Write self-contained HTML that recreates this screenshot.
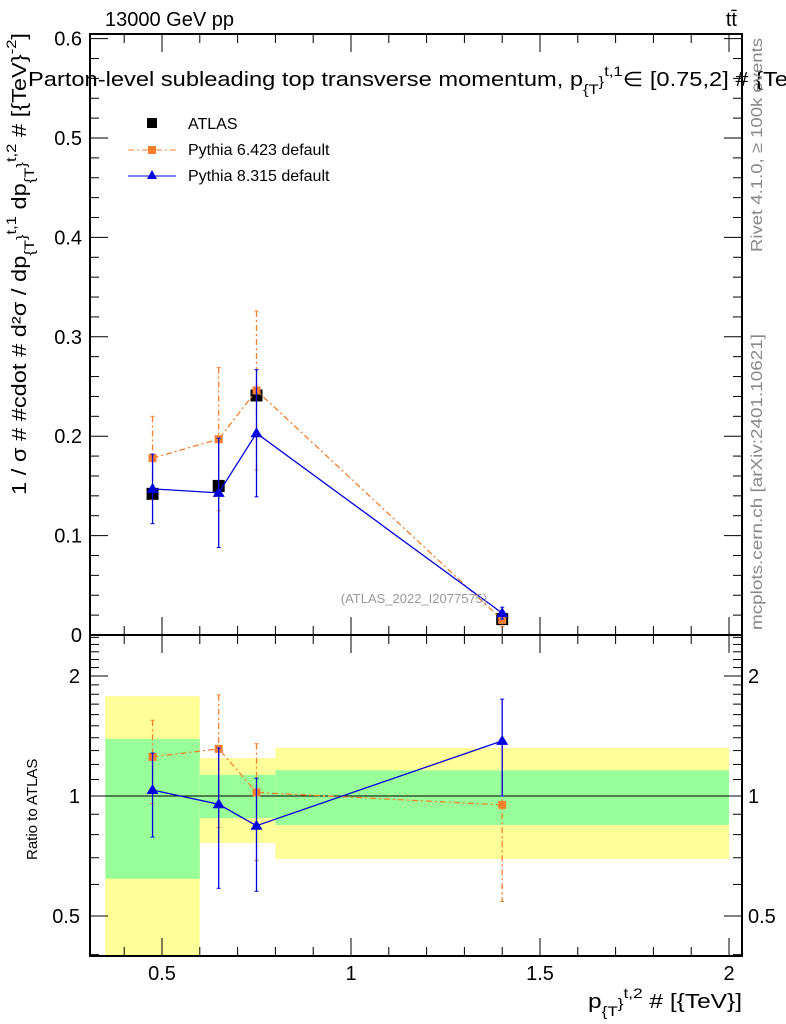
<!DOCTYPE html>
<html><head><meta charset="utf-8"><style>
body{margin:0;background:#fff}
svg{display:block;font-family:"Liberation Sans",sans-serif}
</style></head><body>
<svg id="c" width="786" height="1024" viewBox="0 0 786 1024" xmlns="http://www.w3.org/2000/svg">
<g id="bands"></g>
<g id="axes"></g>
<g id="marks"></g>
<text x="105" y="26" font-size="20">13000 GeV pp</text>
<text x="737" y="26" font-size="20" text-anchor="end">tt̄</text>
<text x="28" y="86" font-size="20" textLength="760" lengthAdjust="spacingAndGlyphs">Parton-level subleading top transverse momentum, p<tspan font-size="14" dy="8">{T</tspan><tspan font-size="14" dy="-8">}</tspan><tspan font-size="14" dy="-10">t,1</tspan><tspan dy="10">∈ [0.75,2] # {Te</tspan></text>
<text x="414" y="603" font-size="13" fill="#999" text-anchor="middle">(ATLAS_2022_I2077575)</text>
<text transform="translate(762,252) rotate(-90)" font-size="16" fill="#888" textLength="214" lengthAdjust="spacingAndGlyphs">Rivet 4.1.0, ≥ 100k events</text>
<text transform="translate(762,630) rotate(-90)" font-size="16" fill="#888" textLength="296" lengthAdjust="spacingAndGlyphs">mcplots.cern.ch [arXiv:2401.10621]</text>
<text transform="translate(26,495) rotate(-90)" font-size="20" textLength="462" lengthAdjust="spacingAndGlyphs">1 / σ # #cdot # d²σ / dp<tspan font-size="14" dy="8">{T</tspan><tspan font-size="14" dy="-8">}</tspan><tspan font-size="14" dy="-10">t,1</tspan><tspan dy="10"> dp</tspan><tspan font-size="14" dy="8">{T</tspan><tspan font-size="14" dy="-8">}</tspan><tspan font-size="14" dy="-10">t,2</tspan><tspan dy="10"> # [{TeV}</tspan><tspan font-size="14" dy="-10">-2</tspan><tspan dy="10">]</tspan></text>
<text transform="translate(37,860) rotate(-90)" font-size="15">Ratio to ATLAS</text>
<text x="588" y="1008" font-size="20" textLength="154" lengthAdjust="spacingAndGlyphs">p<tspan font-size="14" dy="8">{T</tspan><tspan font-size="14" dy="-8">}</tspan><tspan font-size="14" dy="-10">t,2</tspan><tspan dy="10"> # [{TeV}]</tspan></text>
<g>
<rect x="147" y="118" width="10" height="10" fill="#000"/>
<text x="188" y="129" font-size="16">ATLAS</text>
<line x1="128" y1="150" x2="176" y2="150" stroke="#f68030" stroke-dasharray="6,3,2,3"/>
<rect x="148" y="146" width="8" height="8" fill="#f68030"/>
<text x="188" y="155" font-size="16">Pythia 6.423 default</text>
<line x1="128" y1="176" x2="176" y2="176" stroke="#0000e0"/>
<path d="M152 170 L157 179 L147 179Z" fill="#0000e0"/>
<text x="188" y="181" font-size="16">Pythia 8.315 default</text>
</g>
</svg>
<script>
const xs=[0.475,0.65,0.75,1.4];
const binLo=[0.35,0.6,0.7,0.8];
const binHi=[0.6,0.7,0.8,2.0];
const atlas=[0.142,0.150,0.241,0.016];
const py6=[0.178,0.197,0.246,0.0152];
const py6err=[0.042,0.072,0.08,0.0065];
const py8=[0.147,0.143,0.203,0.022];
const py8err=[0.035,0.055,0.064,0.006];
const bandYelHi=[1.78,1.245,1.245,1.32];
const bandGrnHi=[1.39,1.13,1.13,1.16];
const bandGrnLo=[0.62,0.88,0.88,0.846];
const bandYelLo=[0.35,0.762,0.762,0.695];
const yTicks=[0,0.1,0.2,0.3,0.4,0.5,0.6];
const xTicks=[0.5,1,1.5,2];
const rTicks=[0.5,1,2];
const NS="http://www.w3.org/2000/svg";
const L=90,R=742,T=34,M=635,B=956;
const X=v=>540+(v-1.5)*378;
const Y=v=>M-994*v;
const RY=v=>796-120*Math.log2(v);
function el(p,t,a){const e=document.createElementNS(NS,t);for(const k in a)e.setAttribute(k,a[k]);p.appendChild(e);return e;}
const bands=document.getElementById('bands'),axes=document.getElementById('axes'),marks=document.getElementById('marks');
for(let i=0;i<xs.length;i++){
 const yb=Math.min(RY(bandYelLo[i]),B);
 const a=el(bands,'rect',{x:X(binLo[i]),y:RY(bandYelHi[i]),width:X(binHi[i])-X(binLo[i]),height:yb-RY(bandYelHi[i]),fill:'#ffff99'});
 
 
 const g=el(bands,'rect',{x:X(binLo[i]),y:RY(bandGrnHi[i]),width:X(binHi[i])-X(binLo[i]),height:RY(bandGrnLo[i])-RY(bandGrnHi[i]),fill:'#99ff99'});
 
 
}
el(axes,'rect',{x:L,y:T,width:R-L,height:M-T,fill:'none',stroke:'#000','stroke-width':2});
el(axes,'rect',{x:L,y:M,width:R-L,height:B-M,fill:'none',stroke:'#000','stroke-width':2});
el(axes,'line',{x1:L,x2:R,y1:RY(1),y2:RY(1),stroke:'#000'});
for(let v=0.4;v<=2.05;v+=0.1){
 const major=xTicks.some(t=>Math.abs(t-v)<1e-6);const len=major?18:9;const x=X(v);
 for(const [y0,d] of [[T,1],[M,-1],[M,1],[B,-1]]) el(axes,'line',{x1:x,x2:x,y1:y0,y2:y0+d*len,stroke:'#000'});
}
xTicks.forEach(v=>{const t=el(axes,'text',{x:X(v),y:980,'font-size':20,'text-anchor':'middle'});t.textContent=String(v);
 
 });
for(let v=0;v<=0.601;v+=0.02){const major=Math.abs(v*10-Math.round(v*10))<1e-6;const len=major?18:9;const y=Y(v);
 el(axes,'line',{x1:L,x2:L+len,y1:y,y2:y,stroke:'#000'});el(axes,'line',{x1:R,x2:R-len,y1:y,y2:y,stroke:'#000'});}
yTicks.forEach(v=>{const t=el(axes,'text',{x:82,y:Y(v)+7,'font-size':20,'text-anchor':'end'});t.textContent=v===0?'0':v.toFixed(1);
 
 });
const rmin=[0.4,0.5,0.6,0.7,0.8,0.9,1,1.1,1.2,1.3,1.4,1.5,1.6,1.7,1.8,1.9,2,2.1,2.2,2.3,2.4,2.5];
rmin.forEach(v=>{const y=RY(v);if(y<M||y>B)return;const len=rTicks.includes(v)?18:9;
 el(axes,'line',{x1:L,x2:L+len,y1:y,y2:y,stroke:'#000'});el(axes,'line',{x1:R,x2:R-len,y1:y,y2:y,stroke:'#000'});});
rTicks.forEach(v=>{for(const [x,a] of [[80,'end'],[748,'start']]){const t=el(axes,'text',{x:x,y:RY(v)+7,'font-size':20,'text-anchor':a});t.textContent=String(v);
 
 }});
function series(vals,errs,color,dash,shape,name,ratio){
 const f=ratio?(v,i)=>RY(v/atlas[i]):(v,i)=>Y(v);
 const pts=vals.map((v,i)=>X(xs[i])+','+f(v,i)).join(' ');
 const pl=el(marks,'polyline',{points:pts,fill:'none',stroke:color,'stroke-width':1.3,'stroke-dasharray':dash||'none'});
 
 
 vals.forEach((v,i)=>{const x=X(xs[i]);
  if(errs){const y1=f(v+errs[i],i),y2=f(Math.max(v-errs[i],1e-4),i);
   el(marks,'line',{x1:x,x2:x,y1:y1,y2:y2,stroke:color,'stroke-width':1.3,'stroke-dasharray':dash||'none'});
   el(marks,'line',{x1:x-2,x2:x+2,y1:y1,y2:y1,stroke:color});el(marks,'line',{x1:x-2,x2:x+2,y1:y2,y2:y2,stroke:color});}
  const y=f(v,i);let m;
  if(shape==='tri')m=el(marks,'path',{d:`M${x} ${y-6}L${x+6} ${y+4}L${x-6} ${y+4}Z`,fill:color});
  else{const s=8;m=el(marks,'rect',{x:x-s/2,y:y-s/2,width:s,height:s,fill:color});}
  
  
 });
}
atlas.forEach((v,i)=>{const r=el(marks,'rect',{x:X(xs[i])-6,y:Y(v)-6,width:12,height:12,fill:'#000'});
 
 });
series(py6,py6err,'#f68030','6,3,2,3','sq','pythia6',false);
series(py8,py8err,'#0000e0',null,'tri','pythia8',false);
series(py6,py6err,'#f68030','6,3,2,3','sq','pythia6-ratio',true);
series(py8,py8err,'#0000e0',null,'tri','pythia8-ratio',true);
</script>
</body></html>
